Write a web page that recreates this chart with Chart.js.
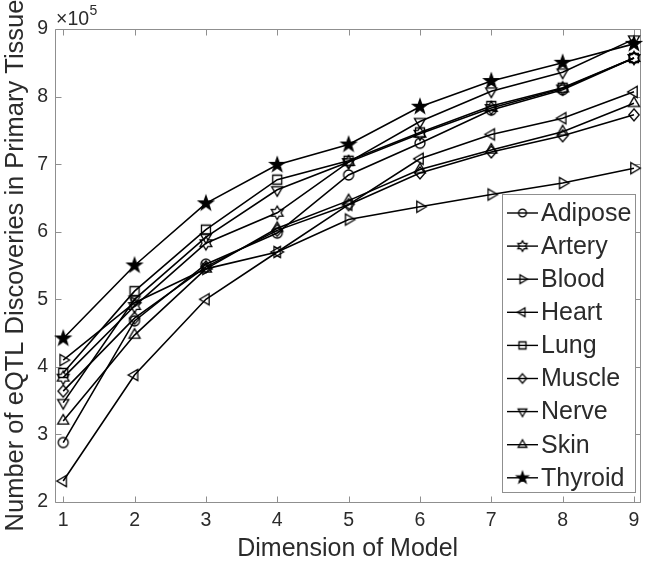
<!DOCTYPE html>
<html><head><meta charset="utf-8">
<script src="https://cdn.jsdelivr.net/npm/chart.js@4.4.0/dist/chart.umd.min.js"></script>
<style>html,body{margin:0;padding:0;background:#fff;}</style>
</head><body>
<canvas id="c" width="648" height="561"></canvas>
<script>
// ---- data (values in units of 10^5) ----
const dims = [1, 2, 3, 4, 5, 6, 7, 8, 9];
const xTickLabels = ['1', '2', '3', '4', '5', '6', '7', '8', '9'];
const yTickValues = [2, 3, 4, 5, 6, 7, 8, 9];
const yTickLabels = ['2', '3', '4', '5', '6', '7', '8', '9'];
const tissues = ['Adipose', 'Artery', 'Blood', 'Heart', 'Lung', 'Muscle', 'Nerve', 'Skin', 'Thyroid'];
const adipose = [2.88, 4.68, 5.52, 5.98, 6.84, 7.31, 7.80, 8.10, 8.57];
const artery  = [3.84, 4.90, 5.83, 6.28, 7.03, 7.45, 7.83, 8.12, 8.57];
const blood   = [4.10, 4.95, 5.45, 5.70, 6.18, 6.37, 6.55, 6.72, 6.94];
const heart   = [2.31, 3.88, 5.00, 5.70, 6.40, 7.08, 7.44, 7.68, 8.07];
const lung    = [3.91, 5.12, 6.03, 6.77, 7.05, 7.47, 7.86, 8.13, 8.57];
const muscle  = [3.64, 4.72, 5.48, 6.02, 6.40, 6.87, 7.18, 7.42, 7.73];
const nerve   = [3.47, 5.00, 5.92, 6.62, 7.03, 7.63, 8.08, 8.36, 8.85];
const skin    = [3.20, 4.47, 5.45, 6.05, 6.46, 6.92, 7.21, 7.48, 7.90];
const thyroid = [4.42, 5.50, 6.42, 6.99, 7.29, 7.85, 8.23, 8.50, 8.78];
const seriesValues = [adipose, artery, blood, heart, lung, muscle, nerve, skin, thyroid];
const markerKinds = ['circle', 'hexagram', 'triRight', 'triLeft', 'square', 'diamond', 'triDown', 'triUp', 'pentagram'];
const xTitle = 'Dimension of Model';
const yTitle = 'Number of eQTL Discoveries in Primary Tissue';
const exponentBase = '\u00d710';
const exponentPower = '5';

const FONT = '"Liberation Sans", Arial, Helvetica, sans-serif';
const TEXT = '#2b2b2b';
const AXIS = '#8f8f8f';

function makeMarker(kind, s) {
  const size = Math.ceil(20 * s) + 2;
  const c = document.createElement('canvas');
  c.width = size; c.height = size;
  const g = c.getContext('2d');
  g.translate(size / 2, size / 2);
  g.strokeStyle = '#000'; g.fillStyle = '#000';
  g.lineWidth = 1.3; g.lineJoin = 'miter';
  g.beginPath();
  const poly = (pts) => { pts.forEach((p, i) => i ? g.lineTo(p[0], p[1]) : g.moveTo(p[0], p[1])); g.closePath(); };
  const tri = (ang) => {
    const r = 6.4 * s, pts = [];
    for (let k = 0; k < 3; k++) { const a = ang + k * 2 * Math.PI / 3; pts.push([r * Math.cos(a), r * Math.sin(a)]); }
    poly(pts);
  };
  const star = (n, ro, ri) => {
    const pts = [];
    for (let k = 0; k < 2 * n; k++) {
      const a = -Math.PI / 2 + k * Math.PI / n, r = k % 2 ? ri : ro;
      pts.push([r * Math.cos(a), r * Math.sin(a)]);
    }
    poly(pts);
  };
  switch (kind) {
    case 'circle': g.arc(0, 0, 5 * s, 0, 2 * Math.PI); break;
    case 'square': g.rect(-4.5 * s, -4.5 * s, 9 * s, 9 * s); break;
    case 'diamond': poly([[0, -6 * s], [5.2 * s, 0], [0, 6 * s], [-5.2 * s, 0]]); break;
    case 'triUp': tri(-Math.PI / 2); break;
    case 'triDown': tri(Math.PI / 2); break;
    case 'triRight': tri(0); break;
    case 'triLeft': tri(Math.PI); break;
    case 'hexagram': star(6, 6.8 * s, 3.9 * s); break;
    case 'pentagram': star(5, 7.6 * s, 3.0 * s); break;
  }
  if (kind === 'pentagram') g.fill();
  g.stroke();
  return c;
}

const datasets = tissues.map((name, i) => ({
  label: name,
  data: dims.map((d, j) => ({ x: d, y: seriesValues[i][j] })),
  borderColor: '#000',
  backgroundColor: '#000',
  borderWidth: 1.6,
  pointStyle: makeMarker(markerKinds[i], 1),
  legendMarker: makeMarker(markerKinds[i], 0.78),
  pointRadius: 6,
  tension: 0,
  fill: false,
  clip: false,
  order: tissues.length - 1 - i
}));

const decorPlugin = {
  id: 'decor',
  beforeDatasetsDraw(chart) {
    const { ctx, chartArea: a, scales } = chart;
    ctx.save();
    ctx.strokeStyle = AXIS; ctx.lineWidth = 1;
    const L = Math.round(a.left) + 0.5, R = Math.round(a.right) + 0.5, T = Math.round(a.top) + 0.5, B = Math.round(a.bottom) + 0.5;
    ctx.beginPath();
    ctx.rect(L, T, R - L, B - T);
    const tl = 6;
    dims.forEach(v => {
      const x = Math.round(scales.x.getPixelForValue(v)) + 0.5;
      ctx.moveTo(x, B); ctx.lineTo(x, B - tl);
      ctx.moveTo(x, T); ctx.lineTo(x, T + tl);
    });
    yTickValues.forEach(v => {
      const y = Math.round(scales.y.getPixelForValue(v)) + 0.5;
      ctx.moveTo(L, y); ctx.lineTo(L + tl, y);
      ctx.moveTo(R, y); ctx.lineTo(R - tl, y);
    });
    ctx.stroke();
    // exponent label
    ctx.fillStyle = TEXT;
    ctx.textBaseline = 'alphabetic'; ctx.textAlign = 'left';
    ctx.font = '19.5px ' + FONT;
    ctx.fillText(exponentBase, a.left + 1, a.top - 4);
    const w = ctx.measureText(exponentBase).width;
    ctx.font = '14px ' + FONT;
    ctx.fillText(exponentPower, a.left + 1 + w + 0.5, a.top - 14);
    ctx.restore();
  },
  afterDatasetsDraw(chart) {
    const { ctx } = chart;
    ctx.save();
    const bx = 502.5, by = 194.5, bw = 133, bh = 298;
    ctx.fillStyle = '#fff';
    ctx.fillRect(bx, by, bw, bh);
    ctx.strokeStyle = AXIS; ctx.lineWidth = 1;
    ctx.strokeRect(bx, by, bw, bh);
    chart.data.datasets.forEach((ds, i) => {
      const y = 213 + i * 33.1;
      ctx.strokeStyle = '#000'; ctx.lineWidth = 1.4;
      ctx.beginPath(); ctx.moveTo(507, y); ctx.lineTo(538, y); ctx.stroke();
      const m = ds.legendMarker;
      ctx.drawImage(m, 522.5 - m.width / 2, y - m.height / 2);
      ctx.fillStyle = TEXT;
      ctx.font = '25px ' + FONT;
      ctx.textBaseline = 'middle'; ctx.textAlign = 'left';
      ctx.fillText(ds.label, 541, y + 1);
    });
    ctx.restore();
  }
};

new Chart(document.getElementById('c'), {
  type: 'line',
  data: { datasets },
  options: {
    responsive: false,
    animation: false,
    devicePixelRatio: 1,
    layout: { padding: { top: 29, right: 4, left: 0, bottom: 0 } },
    plugins: { legend: { display: false }, tooltip: { enabled: false } },
    scales: {
      x: {
        type: 'linear', min: 0.885, max: 9.09,
        afterBuildTicks: (s) => { s.ticks = dims.map(v => ({ value: v })); },
        afterFit: (s) => { s.height = 59; },
        grid: { display: false, drawTicks: false },
        border: { display: false },
        ticks: {
          callback: (v) => xTickLabels[dims.indexOf(v)],
          font: { size: 19.5, family: FONT }, color: TEXT, padding: 7, maxRotation: 0, autoSkip: false
        },
        title: { display: true, text: xTitle, font: { size: 25, family: FONT, lineHeight: 1 }, color: TEXT, padding: { top: 0, bottom: -1 } }
      },
      y: {
        type: 'linear', min: 2, max: 9,
        afterBuildTicks: (s) => { s.ticks = yTickValues.map(v => ({ value: v })); },
        afterFit: (s) => { s.width = 55; },
        grid: { display: false, drawTicks: false },
        border: { display: false },
        ticks: {
          callback: (v) => yTickLabels[yTickValues.indexOf(v)],
          font: { size: 19.5, family: FONT }, color: TEXT, padding: 7, autoSkip: false
        },
        title: { display: true, text: yTitle, font: { size: 25.5, family: FONT, lineHeight: 1 }, color: TEXT, padding: { top: 3, bottom: 0 } }
      }
    }
  },
  plugins: [decorPlugin]
});
</script>
</body></html>
